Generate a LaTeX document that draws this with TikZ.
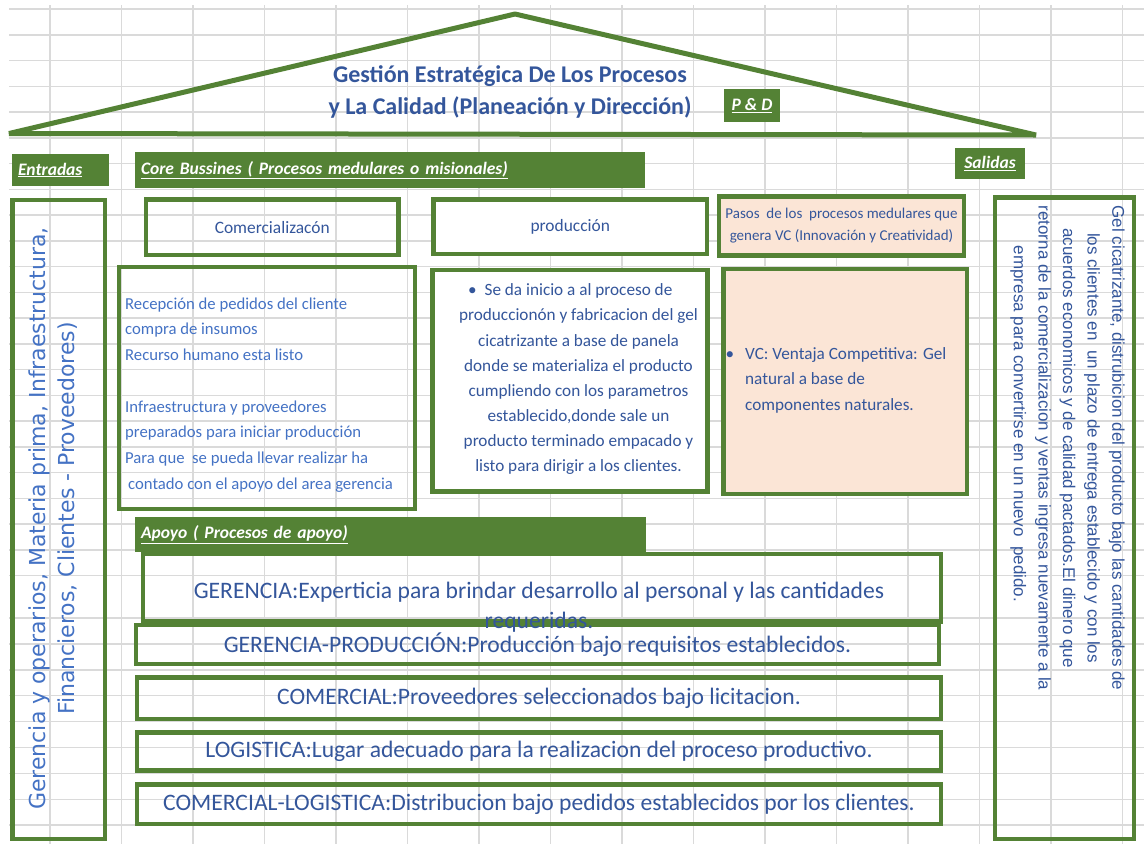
\documentclass[tikz,border=0pt]{standalone}
\usepackage{fontspec}
\setmainfont{Carlito}
\newfontfamily\dejafont{DejaVu Sans}
\newfontfamily\arialfont{Liberation Sans}
\usetikzlibrary{positioning}
\definecolor{hojagreen}{RGB}{84,130,53}
\definecolor{durazno}{RGB}{251,229,214}
\definecolor{celda}{RGB}{218,218,218}
\definecolor{azul}{RGB}{52,86,155}
\definecolor{azulclaro}{RGB}{68,114,196}

\begin{document}
\begin{tikzpicture}[x=1pt, y=-1pt,
  celdas/.style={draw=celda, line width=1.5pt},
  marco/.style={rectangle, draw=hojagreen, line width=4.5pt, inner sep=0pt},
  rotulo/.style={rectangle, fill=hojagreen, text=white, inner xsep=6pt, inner ysep=0pt,
    align=left, font=\fontsize{17.5}{20}\selectfont\bfseries\itshape},
  texto/.style={text=azul, inner sep=0pt},
  renglon/.style={texto, font=\fontsize{23.6}{30}\selectfont},
  ]
\useasboundingbox (0,0) rectangle (1144,844);
\foreach \r in {0,...,22} \draw[celdas] (9,{9+25.75*\r}) -- (1144,{9+25.75*\r});
\foreach \r in {0,...,8} \draw[celdas] (9,{618+25.9*\r}) -- (1144,{618+25.9*\r});
\foreach \c in {0,...,15} \draw[celdas] ({50+71.5*\c},5) -- ({50+71.5*\c},844);

\coordinate (aleroI) at (9,133.5);
\coordinate (cumbre) at (515,14);
\coordinate (aleroD) at (1036,135);
\draw[hojagreen, line width=5pt, line join=bevel] (aleroI) -- (cumbre) -- (aleroD) -- cycle;
\node[texto, align=center, font=\fontsize{24}{32}\selectfont\bfseries] (titulo) at (510,92)
  {Gestión Estratégica De Los Procesos\\y La Calidad (Planeación y Dirección)};
\node[rotulo, align=center, minimum width=56pt, minimum height=33pt] (pyd) at (752,105.5) {\underline{P \& D}};

\node[rotulo, minimum height=32pt, text width=85pt] (entradas) at (60.5,170) {\underline{Entradas}};
\node[rotulo, minimum height=36pt, text width=498pt] (core) at (390,170)
  {\underline{Core Bussines ( Procesos medulares o misionales)}};
\node[rotulo, align=center, minimum width=70pt, minimum height=31pt] (salidas) at (990,163.5) {\underline{Salidas}};
\node[rotulo, minimum height=35pt, text width=499pt] (apoyo) at (390.5,534.5)
  {\underline{Apoyo ( Procesos de apoyo)}};

\node[marco, minimum width=92.5pt, minimum height=639pt] (entradasCaja) at (58.75,519.5) {};
\node[marco, minimum width=139pt, minimum height=641.5pt] (salidasCaja) at (1064.5,518.25) {};
\node[marco, texto, minimum width=252.5pt, minimum height=55.5pt, font=\fontsize{17.4}{20}\selectfont]
  (comerc) at (272.25,227.25) {Comercializacón};
\node[marco, texto, fill=white, minimum width=273.5pt, minimum height=54.5pt, font=\fontsize{17.4}{20}\selectfont]
  (prod) at (570.25,226.75) {producción};
\node[marco, texto, fill=durazno, minimum width=245pt, minimum height=59pt, align=center,
  font=\fontsize{15}{22}\selectfont] (pasos) at (841.5,226)
  {Pasos\ \ de los\ \ procesos medulares que\\genera VC (Innovación y Creatividad)};
\node[marco, minimum width=296pt, minimum height=242pt] (comercCaja) at (267,388) {};
\node[marco, fill=white, minimum width=275pt, minimum height=221.5pt] (prodCaja) at (570,380.75) {};
\node[marco, fill=durazno, minimum width=243.5pt, minimum height=225pt] (vcCaja) at (845.25,381.5) {};

\node[marco, renglon, minimum width=803pt, minimum height=39pt] (gerprod) at (537.5,644.5)
  {GERENCIA-PRODUCCIÓN:Producción bajo requisitos establecidos.};
\node[marco, minimum width=798pt, minimum height=67.5pt] (gerencia) at (542,587.75) {};
\node[marco, renglon, minimum width=804pt, minimum height=41.5pt] (comercial) at (539,698.25)
  {COMERCIAL:Proveedores seleccionados bajo licitacion.};
\node[marco, renglon, minimum width=804pt, minimum height=38pt] (logistica) at (539,751.5)
  {LOGISTICA:Lugar adecuado para la realizacion del proceso productivo.};
\node[marco, renglon, minimum width=804pt, minimum height=39.5pt] (comlog) at (539,804.25)
  {COMERCIAL-LOGISTICA:Distribucion bajo pedidos establecidos por los clientes.};
\node[renglon, align=center] (gerenciaTxt) at (539,606.7)
  {GERENCIA:Experticia para brindar desarrollo al personal y las cantidades\\requeridas.};

\node[texto, text=azulclaro, anchor=west, align=left, font=\fontsize{16.7}{25.75}\selectfont]
  (comercTxt) at (125,395)
  {Recepción de pedidos del cliente\\compra de insumos\\Recurso humano esta listo\\\mbox{}\\
   Infraestructura y proveedores\\preparados para iniciar producción\\
   Para que\ \ se pueda llevar realizar ha\\\hspace*{3pt}contado con el apoyo del area gerencia};
\node[texto, align=center, font=\fontsize{17.2}{25.1}\selectfont] (prodTxt) at (578.5,379.2)
  {\llap{\textbullet\hspace{8pt}}Se da inicio a al proceso de\\produccionón y fabricacion del gel\\
   cicatrizante a base de panela\\donde se materializa el producto\\cumpliendo con los parametros\\
   establecido,donde sale un\\producto terminado empacado y\\listo para dirigir a los clientes.};
\node[texto, anchor=west, align=left, font=\fontsize{17.2}{25.7}\selectfont] (vcTxt) at (745,380.4)
  {\llap{\textbullet\hspace{11pt}}VC: Ventaja Competitiva: Gel\\natural a base de\\componentes naturales.};

\node[texto, text=azulclaro, rotate=90, align=center, font=\dejafont\fontsize{22}{29.5}\selectfont]
  (entradasTxt) at (53.25,518.5)
  {Gerencia y operarios, Materia prima, Infraestructura,\\Financieros, Clientes - Proveedores)};
\node[texto, rotate=-90, align=center, font=\arialfont\fontsize{17}{24.6}\selectfont]
  (salidasTxt) at (1067.5,448)
  {Gel cicatrizante, distrubicion del producto bajo las cantidades de\\
   los clientes en\ \ un plazo de entrega establecido y con los\\
   acuerdos economicos y de calidad pactados.El dinero que\\
   retorna de la comercializacion y ventas ingresa nuevamente a la\\
   \mbox{empresa para convertirse en un nuevo\ \ pedido.\hspace{48pt}}};
\end{tikzpicture}
\end{document}
